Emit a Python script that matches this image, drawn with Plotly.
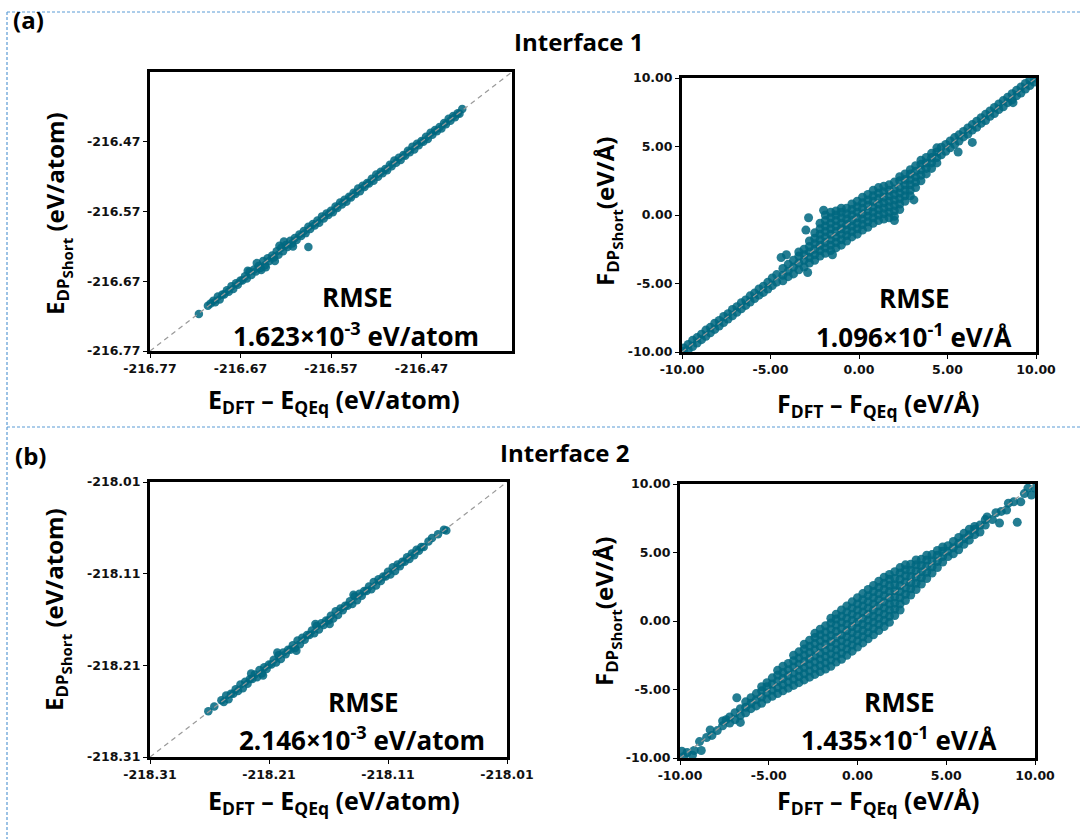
import plotly.graph_objects as go

# ---------------- data ----------------
e1_range = [-216.77, -216.37]
e1_ticks = [-216.77, -216.67, -216.57, -216.47]
e1_dft_a = [-216.700, -216.695, -216.690, -216.685, -216.680, -216.675, -216.670, -216.665,
            -216.660, -216.655, -216.650, -216.645, -216.640, -216.635, -216.630, -216.625,
            -216.620, -216.615, -216.610, -216.605, -216.600, -216.595, -216.590, -216.585,
            -216.580, -216.575, -216.570, -216.565, -216.560, -216.555, -216.550, -216.545,
            -216.540, -216.535, -216.530, -216.525, -216.520, -216.515, -216.510, -216.505,
            -216.500, -216.495, -216.490, -216.485, -216.480, -216.475, -216.470, -216.465,
            -216.460, -216.455, -216.450, -216.445, -216.440, -216.435, -216.430, -216.425]
e1_dp_a = [-216.698, -216.692, -216.689, -216.683, -216.677, -216.673, -216.669, -216.663,
           -216.656, -216.653, -216.648, -216.641, -216.637, -216.633, -216.627, -216.622,
           -216.618, -216.612, -216.608, -216.603, -216.598, -216.592, -216.588, -216.583,
           -216.577, -216.573, -216.569, -216.563, -216.557, -216.553, -216.549, -216.543,
           -216.537, -216.533, -216.529, -216.523, -216.517, -216.513, -216.509, -216.503,
           -216.497, -216.493, -216.489, -216.483, -216.477, -216.473, -216.469, -216.463,
           -216.457, -216.453, -216.449, -216.443, -216.437, -216.433, -216.429, -216.423]
e1_dft_b = [-216.698, -216.693, -216.688, -216.683, -216.678, -216.673, -216.668, -216.663,
            -216.658, -216.653, -216.648, -216.643, -216.638, -216.633, -216.628, -216.623,
            -216.618, -216.613, -216.608, -216.603, -216.598, -216.593, -216.588, -216.583,
            -216.578, -216.573, -216.568, -216.563, -216.558, -216.553, -216.548, -216.543,
            -216.538, -216.533, -216.528, -216.523, -216.518, -216.513, -216.508, -216.503,
            -216.498, -216.493, -216.488, -216.483, -216.478, -216.473, -216.468, -216.463,
            -216.458, -216.453, -216.448, -216.443, -216.438, -216.433, -216.428]
e1_dp_b = [-216.700, -216.696, -216.689, -216.685, -216.681, -216.675, -216.669, -216.666,
           -216.661, -216.656, -216.651, -216.647, -216.641, -216.636, -216.632, -216.627,
           -216.621, -216.616, -216.611, -216.605, -216.601, -216.595, -216.590, -216.586,
           -216.580, -216.575, -216.571, -216.565, -216.560, -216.556, -216.550, -216.545,
           -216.541, -216.535, -216.530, -216.526, -216.520, -216.515, -216.511, -216.505,
           -216.500, -216.496, -216.490, -216.485, -216.481, -216.475, -216.470, -216.466,
           -216.460, -216.455, -216.451, -216.445, -216.440, -216.435, -216.430]
e1_dft_x = [-216.716, -216.706, -216.703, -216.652, -216.632, -216.622, -216.612, -216.642,
            -216.662, -216.647, -216.627, -216.595]
e1_dp_x = [-216.717, -216.705, -216.702, -216.644, -216.641, -216.613, -216.620, -216.650,
           -216.655, -216.654, -216.619, -216.621]

e2_range = [-218.31, -218.01]
e2_ticks = [-218.31, -218.21, -218.11, -218.01]
e2_dft_a = [-218.250, -218.246, -218.242, -218.238, -218.234, -218.230, -218.226, -218.222,
            -218.218, -218.214, -218.210, -218.206, -218.202, -218.198, -218.194, -218.190,
            -218.186, -218.182, -218.178, -218.174, -218.170, -218.166, -218.162, -218.158,
            -218.154, -218.150, -218.146, -218.142, -218.138, -218.134, -218.130, -218.126,
            -218.122, -218.118, -218.114, -218.110, -218.106, -218.102, -218.098, -218.094,
            -218.090, -218.086, -218.082]
e2_dp_a = [-218.248, -218.243, -218.241, -218.236, -218.231, -218.228, -218.225, -218.220,
           -218.215, -218.212, -218.209, -218.204, -218.199, -218.196, -218.193, -218.188,
           -218.183, -218.180, -218.177, -218.172, -218.167, -218.164, -218.161, -218.156,
           -218.151, -218.148, -218.145, -218.140, -218.135, -218.132, -218.129, -218.124,
           -218.119, -218.116, -218.113, -218.108, -218.103, -218.100, -218.097, -218.092,
           -218.088, -218.084, -218.081]
e2_dft_b = [-218.248, -218.244, -218.240, -218.236, -218.232, -218.228, -218.224, -218.220,
            -218.216, -218.212, -218.208, -218.204, -218.200, -218.196, -218.192, -218.188,
            -218.184, -218.180, -218.176, -218.172, -218.168, -218.164, -218.160, -218.156,
            -218.152, -218.148, -218.144, -218.140, -218.136, -218.132, -218.128, -218.124,
            -218.120, -218.116, -218.112, -218.108, -218.104, -218.100, -218.096, -218.092,
            -218.088, -218.084, -218.080]
e2_dp_b = [-218.250, -218.247, -218.241, -218.238, -218.235, -218.230, -218.225, -218.223,
           -218.219, -218.214, -218.209, -218.207, -218.203, -218.198, -218.193, -218.191,
           -218.187, -218.182, -218.177, -218.175, -218.171, -218.166, -218.161, -218.159,
           -218.155, -218.150, -218.145, -218.143, -218.139, -218.134, -218.129, -218.127,
           -218.123, -218.118, -218.113, -218.111, -218.107, -218.102, -218.097, -218.094,
           -218.090, -218.085, -218.081]
e2_dft_x = [-218.261, -218.256, -218.076, -218.073, -218.068, -218.063, -218.061, -218.203,
            -218.187, -218.171, -218.159, -218.139, -218.215, -218.225]
e2_dp_x = [-218.260, -218.255, -218.075, -218.071, -218.067, -218.062, -218.063, -218.196,
           -218.194, -218.165, -218.165, -218.133, -218.221, -218.219]

f_range = [-10.0, 10.0]
f_ticks = [-10.0, -5.0, 0.0, 5.0, 10.0]

# Interface 1 forces: one F_DFT value per column, with the F_DP values seen in that column
f1_col_dft = [
    -9.9, -9.65, -9.4, -9.15, -8.9, -8.65, -8.4, -8.15, -7.9, -7.65, -7.4, -7.15,
    -6.9, -6.65, -6.4, -6.15, -5.9, -5.65, -5.4, -5.15, -4.9, -4.65,
    -4.3, -4.0, -3.7, -3.4, -3.1, -2.8, -2.5, -2.2, -1.9, -1.6, -1.3, -1.0, -0.7, -0.4,
    -0.1, 0.2, 0.5, 0.8, 1.1, 1.4, 1.7, 2.0, 2.3, 2.6, 2.9, 3.2, 3.5, 3.8, 4.1, 4.4,
    4.65, 4.9, 5.15, 5.4, 5.65, 5.9, 6.15, 6.4, 6.65, 6.9, 7.15, 7.4, 7.65, 7.9,
    8.15, 8.4, 8.65, 8.9, 9.15, 9.4, 9.65, 9.9,
    -2.85, -3.0, -4.4, -4.1, -2.0, -2.9, 2.0, 3.1, 5.6, 6.4, 8.7, -1.5]
f1_col_dp = [
    [-9.7, -9.95], [-9.45, -9.85], [-9.15, -9.6], [-8.95, -9.35], [-8.7, -9.1],
    [-8.4, -8.85], [-8.2, -8.6], [-7.9, -8.35], [-7.7, -8.1], [-7.4, -7.85],
    [-7.2, -7.6], [-6.9, -7.35], [-6.7, -7.1], [-6.4, -6.85], [-6.2, -6.6],
    [-5.9, -6.35], [-5.7, -6.1], [-5.4, -5.85], [-5.2, -5.65], [-4.9, -5.4],
    [-4.6, -5.15], [-4.35, -4.9],
    [-4.8, -4.4, -3.9], [-4.5, -4.1, -3.6], [-4.3, -3.8, -3.3],
    [-4.0, -3.5, -3.0, -2.7], [-3.8, -3.3, -2.9, -2.5],
    [-3.5, -3.1, -2.7, -2.3, -1.9], [-3.3, -2.9, -2.5, -2.1, -1.7, -1.3],
    [-3.0, -2.6, -2.2, -1.8, -1.4, -1.0, -0.6],
    [-2.8, -2.4, -2.0, -1.6, -1.2, -0.8, -0.4, 0.0],
    [-2.6, -2.2, -1.8, -1.4, -1.0, -0.6, -0.2, 0.2],
    [-2.4, -2.0, -1.6, -1.2, -0.8, -0.4, 0.0, 0.3],
    [-2.2, -1.8, -1.4, -1.0, -0.6, -0.2, 0.2, 0.5],
    [-1.9, -1.5, -1.1, -0.7, -0.3, 0.1, 0.5],
    [-1.6, -1.2, -0.8, -0.4, 0.0, 0.4, 0.8],
    [-1.4, -1.0, -0.6, -0.2, 0.2, 0.6, 1.0],
    [-1.1, -0.7, -0.3, 0.1, 0.5, 0.9, 1.3],
    [-0.9, -0.5, -0.1, 0.3, 0.7, 1.1, 1.5],
    [-0.6, -0.2, 0.2, 0.6, 1.0, 1.4, 1.8],
    [-0.4, 0.0, 0.4, 0.8, 1.2, 1.6, 2.0],
    [-0.3, 0.1, 0.5, 0.9, 1.3, 1.7, 2.1],
    [-0.2, 0.2, 0.6, 1.0, 1.4, 1.8, 2.2],
    [-0.1, 0.3, 0.7, 1.1, 1.5, 1.9, 2.4],
    [0.4, 0.8, 1.2, 1.6, 2.0, 2.5, 2.8],
    [1.0, 1.4, 1.8, 2.2, 2.6, 3.0],
    [1.4, 1.8, 2.2, 2.6, 3.0, 3.3],
    [2.0, 2.4, 2.8, 3.2, 3.6], [2.5, 2.9, 3.3, 3.7, 4.0],
    [3.0, 3.4, 3.8, 4.2], [3.4, 3.8, 4.2, 4.5], [3.8, 4.2, 4.6, 4.9],
    [4.95, 4.4], [5.15, 4.65], [5.4, 4.9], [5.65, 5.15], [5.85, 5.4], [6.1, 5.7],
    [6.35, 5.9], [6.6, 6.2], [6.85, 6.4], [7.1, 6.7], [7.35, 6.9], [7.6, 7.2],
    [7.85, 7.4], [8.1, 7.7], [8.35, 7.9], [8.6, 8.2], [8.85, 8.4], [9.1, 8.7],
    [9.35, 8.9], [9.6, 9.2], [9.85, 9.45], [10.0, 9.7],
    [-0.2], [-1.1], [-3.1], [-2.9], [0.35], [-4.2], [-0.4], [1.1], [4.6], [5.3], [8.2], [-2.9]]

# Interface 2 forces
f2_col_dft = [
    -9.9, -9.8, -9.6, -9.3, -9.2, -8.9, -8.8, -8.5, -8.3, -8.2, -7.9, -7.6, -7.4, -7.2,
    -6.9, -6.8, -6.6, -6.3,
    -6.0, -5.7, -5.4, -5.1, -4.8, -4.5, -4.2, -3.9, -3.6, -3.3, -3.0, -2.7, -2.4, -2.1,
    -1.8, -1.5, -1.2, -0.9, -0.6, -0.3, 0.0, 0.3, 0.6, 0.9, 1.2, 1.5, 1.8, 2.1, 2.4,
    2.7, 3.0, 3.3, 3.6, 3.9, 4.2, 4.5, 4.8, 5.1, 5.4, 5.7, 6.0,
    6.3, 6.6, 6.9, 7.2, 7.3, 7.6, 7.8, 8.0, 8.1, 8.4, 8.5, 8.8, 9.0, 9.2, 9.4, 9.6,
    9.8, 10.0]
f2_col_dp = [
    [-9.5], [-9.9], [-9.6], [-9.8], [-9.45], [-8.8], [-9.45], [-8.5], [-7.95], [-8.35],
    [-8.0], [-7.3, -7.65], [-7.2], [-7.0, -7.45], [-7.2, -6.7], [-5.6],
    [-6.9, -6.4, -7.4], [-6.7, -6.3, -5.9],
    [-6.4, -6.0, -5.6], [-6.2, -5.75, -5.3], [-6.0, -5.55, -5.1, -4.8],
    [-5.7, -5.25, -4.8, -4.5], [-5.5, -5.05, -4.6, -4.15],
    [-5.3, -4.85, -4.4, -3.95, -3.6], [-5.1, -4.65, -4.2, -3.75, -3.3],
    [-4.9, -4.45, -4.0, -3.55, -3.1], [-4.7, -4.25, -3.8, -3.35, -2.9, -2.5],
    [-4.5, -4.05, -3.6, -3.15, -2.7, -2.25],
    [-4.3, -3.85, -3.4, -2.95, -2.5, -2.05, -1.7],
    [-4.1, -3.65, -3.2, -2.75, -2.3, -1.85, -1.4],
    [-3.9, -3.45, -3.0, -2.55, -2.1, -1.65, -1.2, -0.9],
    [-3.7, -3.25, -2.8, -2.35, -1.9, -1.45, -1.0, -0.6],
    [-3.5, -3.05, -2.6, -2.15, -1.7, -1.25, -0.8, -0.35],
    [-3.3, -2.85, -2.4, -1.95, -1.5, -1.05, -0.6, -0.15, 0.2],
    [-3.0, -2.55, -2.1, -1.65, -1.2, -0.75, -0.3, 0.15, 0.5],
    [-2.8, -2.35, -1.9, -1.45, -1.0, -0.55, -0.1, 0.35, 0.8],
    [-2.5, -2.05, -1.6, -1.15, -0.7, -0.25, 0.2, 0.65, 1.1],
    [-2.2, -1.75, -1.3, -0.85, -0.4, 0.05, 0.5, 0.95, 1.4],
    [-1.9, -1.45, -1.0, -0.55, -0.1, 0.35, 0.8, 1.25, 1.7],
    [-1.6, -1.15, -0.7, -0.25, 0.2, 0.65, 1.1, 1.55, 2.0],
    [-1.3, -0.85, -0.4, 0.05, 0.5, 0.95, 1.4, 1.85, 2.3],
    [-1.0, -0.55, -0.1, 0.35, 0.8, 1.25, 1.7, 2.15, 2.6],
    [-0.7, -0.25, 0.2, 0.65, 1.1, 1.55, 2.0, 2.45, 2.9],
    [-0.4, 0.05, 0.5, 0.95, 1.4, 1.85, 2.3, 2.75, 3.2],
    [-0.1, 0.35, 0.8, 1.25, 1.7, 2.15, 2.6, 3.05, 3.4],
    [0.4, 0.85, 1.3, 1.75, 2.2, 2.65, 3.1, 3.6],
    [0.8, 1.25, 1.7, 2.15, 2.6, 3.05, 3.5, 3.9],
    [1.5, 1.95, 2.4, 2.85, 3.3, 3.75, 4.1],
    [1.9, 2.35, 2.8, 3.25, 3.7, 4.15],
    [2.3, 2.75, 3.2, 3.65, 4.1, 4.45],
    [2.7, 3.15, 3.6, 4.05, 4.5],
    [3.1, 3.55, 4.0, 4.45, 4.8],
    [3.5, 3.95, 4.4, 4.85],
    [3.9, 4.35, 4.8, 5.15],
    [4.3, 4.7, 5.1, 5.4], [4.7, 5.1, 5.5],
    [4.9, 5.35, 5.8], [5.2, 5.65, 6.1], [5.6, 6.0, 6.4],
    [5.9, 6.3, 6.7], [6.3, 6.7, 6.9], [6.5, 7.0], [7.0, 7.4], [7.6], [7.4], [7.9],
    [7.15], [8.0], [8.1], [8.6], [8.7], [7.2], [8.7], [9.3], [9.7], [9.2], [9.7]]

assert len(e1_dft_a) == len(e1_dp_a) and len(e1_dft_b) == len(e1_dp_b)
assert len(e1_dft_x) == len(e1_dp_x)
assert len(e2_dft_a) == len(e2_dp_a) and len(e2_dft_b) == len(e2_dp_b)
assert len(e2_dft_x) == len(e2_dp_x)
assert len(f1_col_dft) == len(f1_col_dp) and len(f2_col_dft) == len(f2_col_dp)


def flatten(col_x, col_y):
    xs, ys = [], []
    for xv, yl in zip(col_x, col_y):
        for yv in yl:
            xs.append(xv)
            ys.append(yv)
    return xs, ys


f1_dft, f1_dp = flatten(f1_col_dft, f1_col_dp)
f2_dft, f2_dp = flatten(f2_col_dft, f2_col_dp)
e1_dft = e1_dft_a + e1_dft_b + e1_dft_x
e1_dp = e1_dp_a + e1_dp_b + e1_dp_x
e2_dft = e2_dft_a + e2_dft_b + e2_dft_x
e2_dp = e2_dp_a + e2_dp_b + e2_dp_x

# ---------------- figure ----------------
W, H = 1081, 839
DOT = "#006880"
FONT_T = "Open Sans"
FONT_K = "DejaVu Sans"


def px_dom(a, b, total, flip=False):
    if flip:
        return [1 - b / total, 1 - a / total]
    return [a / total, b / total]


panels = [
    (e1_dft, e1_dp, e1_range, e1_ticks, (150, 512), (72, 351), 8.5),
    (f1_dft, f1_dp, f_range, f_ticks, (682, 1036), (78, 352), 9),
    (e2_dft, e2_dp, e2_range, e2_ticks, (150, 507), (482, 757), 8.5),
    (f2_dft, f2_dp, f_range, f_ticks, (680, 1035), (484, 758), 9),
]

fig = go.Figure()
layout_axes = {}
for i, (xs, ys, rng, ticks, xd, yd, msize) in enumerate(panels, start=1):
    xa = "x" if i == 1 else f"x{i}"
    ya = "y" if i == 1 else f"y{i}"
    fig.add_trace(go.Scatter(
        x=xs, y=ys, mode="markers", xaxis=xa, yaxis=ya,
        marker=dict(size=msize, color=DOT, opacity=0.86, line=dict(width=0)),
        showlegend=False, hoverinfo="skip"))
    fig.add_trace(go.Scatter(
        x=rng, y=rng, mode="lines", xaxis=xa, yaxis=ya,
        line=dict(color="#9a9a9a", width=1.2, dash="5px,4px"),
        showlegend=False, hoverinfo="skip"))
    ticktext = ["<b>{:.2f}</b>".format(t) for t in ticks]
    common = dict(
        range=rng, tickvals=ticks, ticktext=ticktext, showgrid=False, zeroline=False,
        showline=True, linecolor="black", linewidth=3, mirror=True, automargin=False,
        ticks="outside", ticklen=4, tickwidth=1.2, tickcolor="black",
        tickfont=dict(family=FONT_K, size=12.5, color="#111"),
    )
    layout_axes["xaxis" if i == 1 else f"xaxis{i}"] = dict(
        domain=px_dom(*xd, W), anchor=ya, **common)
    layout_axes["yaxis" if i == 1 else f"yaxis{i}"] = dict(
        domain=px_dom(*yd, H, flip=True), anchor=xa, **common)

fig.update_layout(**layout_axes)


def P(xp, yp):
    return xp / W, 1 - yp / H


annots = []


def add_text(text, xp, yp, size, angle=0, xanchor="center"):
    x, y = P(xp, yp)
    annots.append(dict(text=text, x=x, y=y, xref="paper", yref="paper",
                       showarrow=False, xanchor=xanchor, yanchor="middle",
                       textangle=angle,
                       font=dict(family=FONT_T, size=size, color="black", weight="bold")))


add_text("(a)", 11, 20, 24, xanchor="left")
add_text("Interface 1", 578, 42, 24)
add_text("(b)", 13, 455, 24, xanchor="left")
add_text("Interface 2", 564, 452, 24)

SH = "<span style='font-size:15px'>Short</span>"
e_xt = "E<sub>DFT</sub> – E<sub>QEq</sub> (eV/atom)"
f_xt = "F<sub>DFT</sub> – F<sub>QEq</sub> (eV/Å)"
e_yt = "E<sub>DP<sub>" + SH + "</sub></sub> (eV/atom)"
f_yt = "F<sub>DP<sub>" + SH + "</sub></sub>(eV/Å)"

add_text(e_xt, 334, 401, 25)
add_text(f_xt, 878, 405, 25)
add_text(e_xt, 334, 801, 25)
add_text(f_xt, 878, 801, 25)
add_text(e_yt, 57, 214, 24, angle=-90)
add_text(f_yt, 607, 212, 24, angle=-90)
add_text(e_yt, 56, 610, 24, angle=-90)
add_text(f_yt, 606, 612, 24, angle=-90)

add_text("RMSE", 357, 297, 26)
add_text("1.623×10<sup>-3</sup> eV/atom", 356, 335, 26)
add_text("RMSE", 914, 298, 26)
add_text("1.096×10<sup>-1</sup> eV/Å", 914, 336, 26)
add_text("RMSE", 363, 702, 26)
add_text("2.146×10<sup>-3</sup> eV/atom", 362, 739, 26)
add_text("RMSE", 899, 702, 26)
add_text("1.435×10<sup>-1</sup> eV/Å", 899, 739, 26)

shapes = []
BL = "#5b9bd5"
for (x0, y0, x1, y1) in [(7, 12, W, 12), (7, 12, 7, H), (7, 427, W, 427)]:
    a0, b0 = P(x0, y0)
    a1, b1 = P(x1, y1)
    shapes.append(dict(type="line", xref="paper", yref="paper", x0=a0, y0=b0, x1=a1, y1=b1,
                       line=dict(color=BL, width=1.2, dash="3px,2px")))

fig.update_layout(width=W, height=H, margin=dict(l=0, r=0, t=0, b=0),
                  paper_bgcolor="white", plot_bgcolor="white",
                  annotations=annots, shapes=shapes)

fig.write_html("out.html")
